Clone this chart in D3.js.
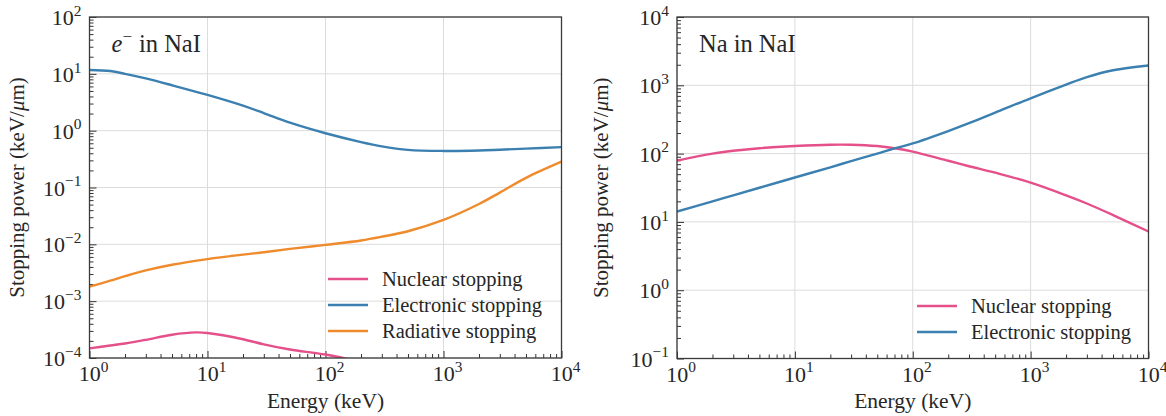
<!DOCTYPE html>
<html>
<head>
<meta charset="utf-8">
<script src="https://cdn.jsdelivr.net/npm/d3@7"></script>
</head>
<body style="margin:0;background:#fff">
<svg id="fig" width="1166" height="416"></svg>
<script>
// ---- Electrons in NaI (keV, keV/um) ----
const electronEnergy = [1, 1.5, 2, 3, 5, 10, 20, 30, 50, 100, 200, 300, 500, 1000, 2000, 3000, 5000, 10000];
const electronElectronic = [11.7, 11.2, 10.0, 8.3, 6.3, 4.25, 2.75, 2.04, 1.38, 0.9, 0.63, 0.53, 0.46, 0.44, 0.447, 0.462, 0.484, 0.513];
const electronRadiative = [1.8e-3, 2.29e-3, 2.75e-3, 3.47e-3, 4.37e-3, 5.5e-3, 6.6e-3, 7.24e-3, 8.3e-3, 9.8e-3, 0.0117, 0.0136, 0.017, 0.0269, 0.0513, 0.0813, 0.148, 0.285];
const electronNuclearEnergy = [1, 1.5, 2, 3, 5, 8, 10, 20, 30, 50, 100, 200, 300];
const electronNuclear = [1.48e-4, 1.66e-4, 1.8e-4, 2.09e-4, 2.57e-4, 2.82e-4, 2.75e-4, 2.14e-4, 1.74e-4, 1.41e-4, 1.15e-4, 8.5e-5, 7.1e-5];

// ---- Na recoils in NaI ----
const sodiumEnergy = [1, 2, 3, 5, 10, 20, 30, 50, 70, 100, 200, 300, 500, 1000, 2000, 3000, 5000, 10000];
const sodiumElectronic = [14.2, 20, 24.5, 31.6, 44.7, 63, 77.6, 100, 119, 141, 214, 279, 398, 646, 1023, 1318, 1660, 1950];
const sodiumNuclear = [79, 100, 110, 120, 129, 135, 135, 129, 120, 107, 78.5, 65.3, 52.5, 37.6, 24.5, 18.6, 12.6, 7.24];

// tick exponents
const xExponents = [0, 1, 2, 3, 4];
const yExponentsLeft = [2, 1, 0, -1, -2, -3, -4];
const yExponentsRight = [4, 3, 2, 1, 0, -1];

const seriesNames = ["Nuclear stopping", "Electronic stopping", "Radiative stopping"];
const colors = { nuclear: "#e5508a", electronic: "#3b80b0", radiative: "#ef8b2c" };

const FONT = '"Liberation Serif", "Times New Roman", serif';
const INK = "#262626";

const svg = d3.select("#fig").style("font-family", FONT);
svg.append("rect").attr("width", 1166).attr("height", 416).attr("fill", "#fff");

function addText(parent) {
  return parent.append("text").style("font-family", FONT).attr("fill", INK);
}

function supLabel(sel, exp, size) {
  sel.append("tspan").text("10");
  sel.append("tspan").attr("dy", -0.42 * size).attr("font-size", size * 0.7)
     .text(exp < 0 ? "\u2212" + Math.abs(exp) : String(exp));
}

function panel(opt) {
  const g = svg.append("g");
  const x = d3.scaleLog().domain([1, 1e4]).range([opt.left, opt.right]);
  const y = d3.scaleLog().domain(opt.yDomain).range([opt.bottom, opt.top]);
  const clipId = "clip" + opt.id;
  svg.append("clipPath").attr("id", clipId).append("rect")
     .attr("x", opt.left).attr("y", opt.top)
     .attr("width", opt.right - opt.left).attr("height", opt.bottom - opt.top);

  // grid
  const grid = g.append("g").attr("stroke", "#dcdcdc").attr("stroke-width", 1);
  xExponents.forEach(e => grid.append("line")
    .attr("x1", x(10 ** e)).attr("x2", x(10 ** e)).attr("y1", opt.top).attr("y2", opt.bottom));
  opt.yExps.forEach(e => grid.append("line")
    .attr("y1", y(10 ** e)).attr("y2", y(10 ** e)).attr("x1", opt.left).attr("x2", opt.right));

  // ticks (inward), majors at decades, minors at 2..9
  const isMajor = v => Math.abs(Math.log10(v) - Math.round(Math.log10(v))) < 1e-9;
  const xAxis = d3.axisBottom(x).tickValues(x.ticks()).tickFormat("").tickSizeOuter(0)
    .tickSizeInner(-4);
  const gx = g.append("g").attr("transform", `translate(0,${opt.bottom})`).call(xAxis);
  gx.selectAll(".tick line").attr("y2", d => isMajor(d) ? -7 : -4);
  const yAxis = d3.axisLeft(y).tickValues(y.ticks()).tickFormat("").tickSizeOuter(0)
    .tickSizeInner(-4);
  const gy = g.append("g").attr("transform", `translate(${opt.left},0)`).call(yAxis);
  gy.selectAll(".tick line").attr("x2", d => isMajor(d) ? 7 : 4);
  [gx, gy].forEach(a => {
    a.select(".domain").remove();
    a.selectAll(".tick line").attr("stroke", "#333").attr("stroke-width", 1);
  });

  // curves
  const line = d3.line().x(d => x(d[0])).y(d => y(d[1])).curve(d3.curveCatmullRom.alpha(0.5));
  const curves = g.append("g").attr("clip-path", `url(#${clipId})`);
  opt.series.forEach(s => {
    curves.append("path").datum(d3.zip(s.energy, s.values))
      .attr("d", line).attr("fill", "none").attr("stroke", s.color)
      .attr("stroke-width", 2.4).attr("stroke-linejoin", "round");
  });

  // frame
  g.append("rect").attr("x", opt.left).attr("y", opt.top)
    .attr("width", opt.right - opt.left).attr("height", opt.bottom - opt.top)
    .attr("fill", "none").attr("stroke", "#3a3a3a").attr("stroke-width", 1.3);

  // tick labels
  const fs = 22;
  xExponents.forEach(e => {
    const t = addText(g).attr("x", x(10 ** e) + 4).attr("y", opt.bottom + 23)
      .attr("text-anchor", "middle").attr("font-size", fs);
    supLabel(t, e, fs);
  });
  opt.yExps.forEach(e => {
    const t = addText(g).attr("x", opt.left - 8).attr("y", y(10 ** e) + 8)
      .attr("text-anchor", "end").attr("font-size", fs);
    supLabel(t, e, fs);
  });

  // axis titles
  addText(g).attr("x", (opt.left + opt.right) / 2).attr("y", 408)
    .attr("text-anchor", "middle").attr("font-size", 21.5).text("Energy (keV)");
  const yl = addText(g).attr("transform", `translate(${opt.yLabelX},${(opt.top + opt.bottom) / 2}) rotate(-90)`)
    .attr("text-anchor", "middle").attr("font-size", 21);
  yl.append("tspan").text("Stopping power (keV/");
  yl.append("tspan").attr("font-style", "italic").text("\u03bc");
  yl.append("tspan").text("m)");

  // panel title
  const title = addText(g).attr("x", opt.left + 22).attr("y", opt.top + 35).attr("font-size", 24.5);
  opt.title(title);

  // legend
  opt.series.forEach((s, i) => {
    const ly = opt.legendY + i * 26;
    g.append("line").attr("x1", opt.legendX).attr("x2", opt.legendX + 40)
      .attr("y1", ly).attr("y2", ly).attr("stroke", s.color).attr("stroke-width", 2.4);
    addText(g).attr("x", opt.legendX + 54).attr("y", ly)
      .attr("dominant-baseline", "central").attr("font-size", 20.5).text(s.name);
  });
}

panel({
  id: "A", left: 89.5, right: 561.5, top: 17, bottom: 358,
  yDomain: [1e-4, 1e2], yExps: yExponentsLeft, yLabelX: 24,
  legendX: 328, legendY: 279,
  title: t => {
    t.append("tspan").attr("font-style", "italic").text("e");
    t.append("tspan").attr("dy", -10).attr("font-size", 17).text("\u2212");
    t.append("tspan").attr("dy", 10).attr("dx", 7).text("in NaI");
  },
  series: [
    { name: seriesNames[0], color: colors.nuclear, energy: electronNuclearEnergy, values: electronNuclear },
    { name: seriesNames[1], color: colors.electronic, energy: electronEnergy, values: electronElectronic },
    { name: seriesNames[2], color: colors.radiative, energy: electronEnergy, values: electronRadiative }
  ]
});

panel({
  id: "B", left: 677, right: 1148.5, top: 17, bottom: 358.5,
  yDomain: [1e-1, 1e4], yExps: yExponentsRight, yLabelX: 608,
  legendX: 917, legendY: 306,
  title: t => t.text("Na in NaI"),
  series: [
    { name: seriesNames[0], color: colors.nuclear, energy: sodiumEnergy, values: sodiumNuclear },
    { name: seriesNames[1], color: colors.electronic, energy: sodiumEnergy, values: sodiumElectronic }
  ]
});
</script>
</body>
</html>
